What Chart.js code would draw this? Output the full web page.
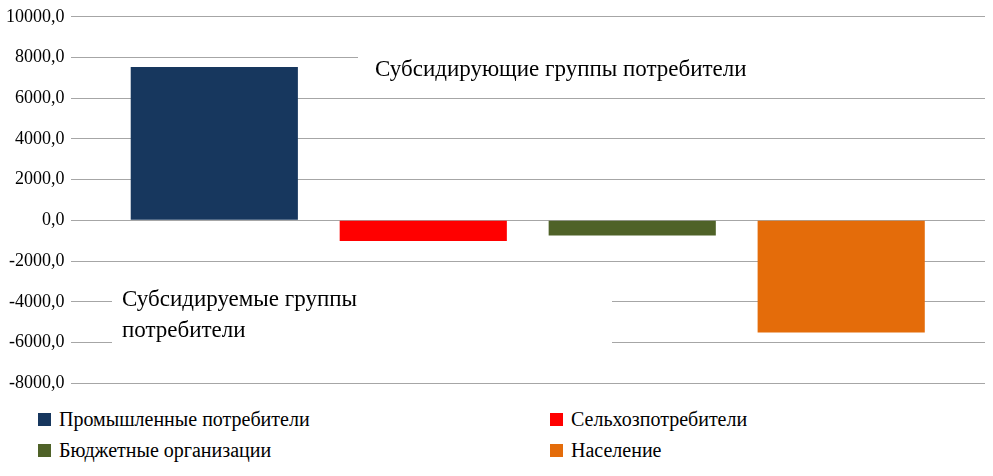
<!DOCTYPE html>
<html><head><meta charset="utf-8">
<script src="https://cdn.jsdelivr.net/npm/chart.js@4"></script>
<style>
body{margin:0;background:#fff;font-family:"Liberation Serif","Times New Roman",serif;}
#wrap{position:relative;width:993px;height:400px;}
#leg{position:absolute;left:38px;top:408px;width:950px;font-size:20px;color:#000;}
.li{position:absolute;display:flex;align-items:center;white-space:nowrap;}
.sw{width:13px;height:13px;margin-right:8px;}
</style></head><body>
<div id="wrap"><canvas id="c" width="993" height="400"></canvas></div>
<div id="leg"></div>
<script>
const categories=[""];
const seriesNames=["Промышленные потребители","Сельхозпотребители","Бюджетные организации","Население"];
const seriesValues=[[7530],[-1020],[-740],[-5510]];
const colors=["#17375e","#ff0000","#4f6228","#e46c0a"];
const yTicks=[10000,8000,6000,4000,2000,0,-2000,-4000,-6000,-8000];
const notes=[{text:["Субсидирующие группы потребители"],x:375,y:70,box:[358,45,630,50]},
 {text:["Субсидируемые группы","потребители"],x:122,y:300,box:[112,284,500,60]}];
const leg=document.getElementById('leg');
const lpos=[[0,0],[512,0],[0,31],[512,31]];
seriesNames.forEach((n,i)=>{const d=document.createElement('div');d.className='li';d.style.left=lpos[i][0]+'px';d.style.top=lpos[i][1]+'px';d.innerHTML='<div class="sw" style="background:'+colors[i]+'"></div><span>'+n+'</span>';leg.appendChild(d);});
const notePlugin={id:'notes',beforeDatasetsDraw(ch){const c=ch.ctx;c.save();notes.forEach(n=>{c.fillStyle='#fff';c.fillRect(...n.box);c.fillStyle='#000';c.font='23px "Liberation Serif"';c.textBaseline='middle';n.text.forEach((t,k)=>c.fillText(t,n.x,n.y+k*31));});c.restore();}};
new Chart(document.getElementById('c'),{type:'bar',
data:{labels:categories,datasets:seriesNames.map((n,i)=>({label:n,data:seriesValues[i],backgroundColor:colors[i]}))},
options:{responsive:false,animation:false,devicePixelRatio:1,
 layout:{padding:{top:3,right:8,left:0,bottom:0}},
 categoryPercentage:0.914,barPercentage:0.8,
 plugins:{legend:{display:false},tooltip:{enabled:false}},
 scales:{x:{display:false},
  y:{min:-8000,max:10000,afterBuildTicks(a){a.ticks=yTicks.map(v=>({value:v}));},
   border:{display:false},grid:{color:'#a6a6a6',drawTicks:false},
   ticks:{autoSkip:false,padding:6,color:'#000',font:{family:'Liberation Serif',size:18},callback:v=>v.toFixed(1).replace('.',',')}}}}
 ,plugins:[notePlugin]});
</script></body></html>
